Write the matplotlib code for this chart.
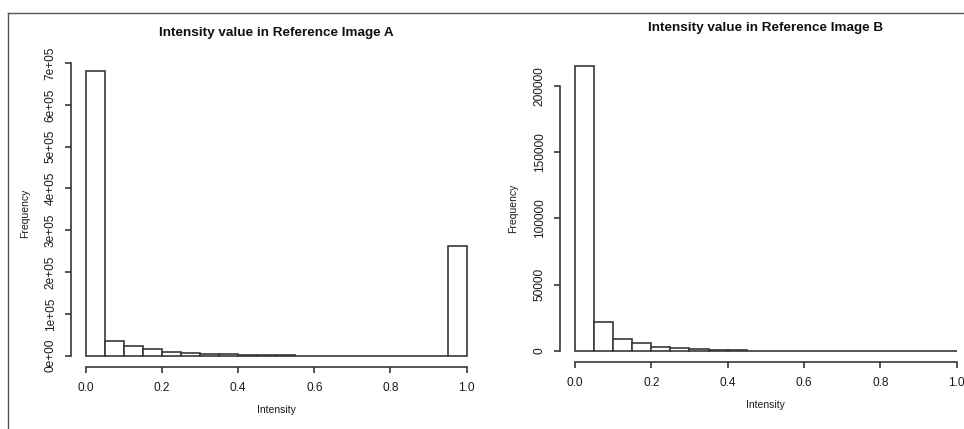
import matplotlib
matplotlib.use("Agg")
import matplotlib.pyplot as plt
from matplotlib.lines import Line2D

plt.rcParams['font.family'] = ['Liberation Sans', 'DejaVu Sans']

# histogram bins (left edges, width 0.05)
bin_left = [0.00, 0.05, 0.10, 0.15, 0.20, 0.25, 0.30, 0.35, 0.40, 0.45,
            0.50, 0.55, 0.60, 0.65, 0.70, 0.75, 0.80, 0.85, 0.90, 0.95]
bin_width = 0.05

counts_a = [681600, 35900, 23900, 16000, 9600, 6500, 4800, 3300, 1800, 1200,
            800, 0, 0, 0, 0, 0, 0, 0, 0, 262400]
counts_b = [214900, 21650, 8820, 6260, 3240, 2490, 1280, 900, 400, 250,
            150, 80, 0, 0, 0, 0, 0, 0, 0, 0]

xticks = [0.0, 0.2, 0.4, 0.6, 0.8, 1.0]
xtick_labels = ["0.0", "0.2", "0.4", "0.6", "0.8", "1.0"]
yticks_a = [0, 100000, 200000, 300000, 400000, 500000, 600000, 700000]
ytick_labels_a = ["0e+00", "1e+05", "2e+05", "3e+05", "4e+05", "5e+05", "6e+05", "7e+05"]
yticks_b = [0, 50000, 100000, 150000, 200000]
ytick_labels_b = ["0", "50000", "100000", "150000", "200000"]

titles = ["Intensity value in Reference Image A", "Intensity value in Reference Image B"]

LC = "#383838"
TC = "#1a1a1a"
W, H = 964, 429

fig = plt.figure(figsize=(W / 100, H / 100), dpi=100)
fig.patch.set_facecolor("white")

# frame lines of the original screenshot
fig.add_artist(Line2D([8 / W, 1], [1 - 13 / H, 1 - 13 / H], color="#555555", lw=1.0))
fig.add_artist(Line2D([8 / W, 8 / W], [0, 1 - 13 / H], color="#555555", lw=1.0))

ax_a = fig.add_axes([70.5 / W, 1 - 367.1 / H, 411.4 / W, 307.8 / H])
ax_b = fig.add_axes([559.7 / W, 1 - 362.4 / H, 412.3 / W, 307.8 / H])


def draw_hist(ax, counts, yticks, ylabels, title, lab_x):
    ax.bar(bin_left, counts, width=bin_width, align="edge",
           facecolor="white", edgecolor=LC, linewidth=1.2)
    ymax = max(counts)
    ax.set_xlim(-0.04, 1.04)
    ax.set_ylim(-0.04 * ymax, 1.04 * ymax)
    for s in ["top", "right"]:
        ax.spines[s].set_visible(False)
    for s in ["left", "bottom"]:
        ax.spines[s].set_color(LC)
        ax.spines[s].set_linewidth(1.2)
    ax.spines["left"].set_bounds(yticks[0], yticks[-1])
    ax.spines["bottom"].set_bounds(xticks[0], xticks[-1])
    ax.set_xticks(xticks)
    ax.set_xticklabels(xtick_labels, fontweight="medium")
    ax.set_yticks(yticks)
    ax.set_yticklabels(ylabels, rotation=90, va="center", fontweight="medium")
    ax.tick_params(axis="both", length=4.5, width=1.2, color=LC,
                   labelsize=8.6, labelcolor=TC)
    ax.tick_params(axis="x", pad=6)
    ax.tick_params(axis="y", pad=5.5)
    ax.set_facecolor("white")
    ax.text(0.5, 1 + 26.5 / 307.8, title, transform=ax.transAxes,
            ha="center", va="center", fontsize=9.7, fontweight="bold", color="#111111")
    ax.text(0.5, -43 / 307.8, "Intensity", transform=ax.transAxes,
            ha="center", va="center", fontsize=7.5, color=TC)
    ax.text(lab_x, 0.5, "Frequency", transform=ax.transAxes, rotation=90,
            ha="center", va="center", fontsize=7.5, color=TC)


draw_hist(ax_a, counts_a, yticks_a, ytick_labels_a, titles[0], -45.5 / 411.4)
draw_hist(ax_b, counts_b, yticks_b, ytick_labels_b, titles[1], -46.7 / 412.3)

fig.savefig("out.png", dpi=100)
